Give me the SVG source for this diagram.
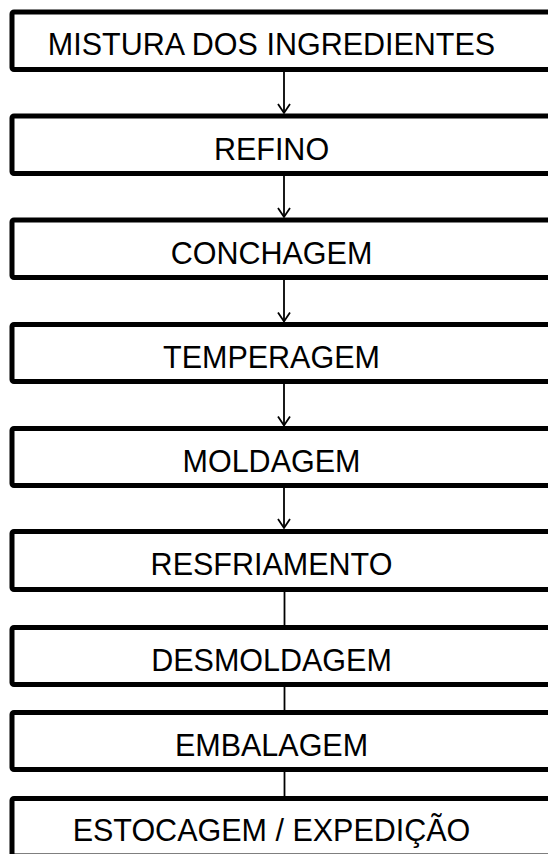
<svg xmlns="http://www.w3.org/2000/svg" width="548" height="854" viewBox="0 0 548 854">
<style>
.box{fill:#fff;stroke:#000;stroke-width:5}
.lbl{font-family:"Liberation Sans",Arial,sans-serif;font-size:30.5px;fill:#000;text-anchor:middle}
.conn{stroke:#000;stroke-width:1.8;fill:none}
</style>
<defs>
<marker id="arr" markerWidth="12" markerHeight="14" refX="10" refY="6.5" orient="auto" markerUnits="userSpaceOnUse" viewBox="0 0 12 13">
<path d="M1,0.5 L10,6.5 L1,12.5" fill="none" stroke="#000" stroke-width="1.8"/>
</marker>
</defs>
<g id="connectors">
<line class="conn" x1="284" y1="70" x2="284" y2="113" marker-end="url(#arr)"/>
<line class="conn" x1="284" y1="174" x2="284" y2="217" marker-end="url(#arr)"/>
<line class="conn" x1="284" y1="278" x2="284" y2="321.5" marker-end="url(#arr)"/>
<line class="conn" x1="284" y1="382" x2="284" y2="425.5" marker-end="url(#arr)"/>
<line class="conn" x1="284" y1="486" x2="284" y2="528" marker-end="url(#arr)"/>
<line class="conn" x1="284.5" y1="590" x2="284.5" y2="627"/>
<line class="conn" x1="284.5" y1="685" x2="284.5" y2="712"/>
<line class="conn" x1="284.5" y1="770" x2="284.5" y2="798"/>
</g>
<g id="n1"><rect class="box" x="12" y="12" width="560" height="57.5" rx="2"/><text class="lbl" x="271.5" y="55">MISTURA DOS INGREDIENTES</text></g>
<g id="n2"><rect class="box" x="12" y="116" width="560" height="57.5" rx="2"/><text class="lbl" x="271.5" y="159.5">REFINO</text></g>
<g id="n3"><rect class="box" x="12" y="220" width="560" height="57.5" rx="2"/><text class="lbl" x="271.5" y="263.5">CONCHAGEM</text></g>
<g id="n4"><rect class="box" x="12" y="324.5" width="560" height="57" rx="2"/><text class="lbl" x="271.5" y="368">TEMPERAGEM</text></g>
<g id="n5"><rect class="box" x="12" y="428.5" width="560" height="57" rx="2"/><text class="lbl" x="271.5" y="472">MOLDAGEM</text></g>
<g id="n6"><rect class="box" x="12" y="531.5" width="560" height="58" rx="2"/><text class="lbl" x="271.5" y="575">RESFRIAMENTO</text></g>
<g id="n7"><rect class="box" x="12" y="627.5" width="560" height="57" rx="2"/><text class="lbl" x="271.5" y="671">DESMOLDAGEM</text></g>
<g id="n8"><rect class="box" x="12" y="712.5" width="560" height="57" rx="2"/><text class="lbl" x="271.5" y="756">EMBALAGEM</text></g>
<g id="n9"><rect class="box" x="12" y="798.5" width="560" height="57.5" rx="2"/><text class="lbl" x="271.5" y="841">ESTOCAGEM / EXPEDIÇÃO</text></g>
</svg>
